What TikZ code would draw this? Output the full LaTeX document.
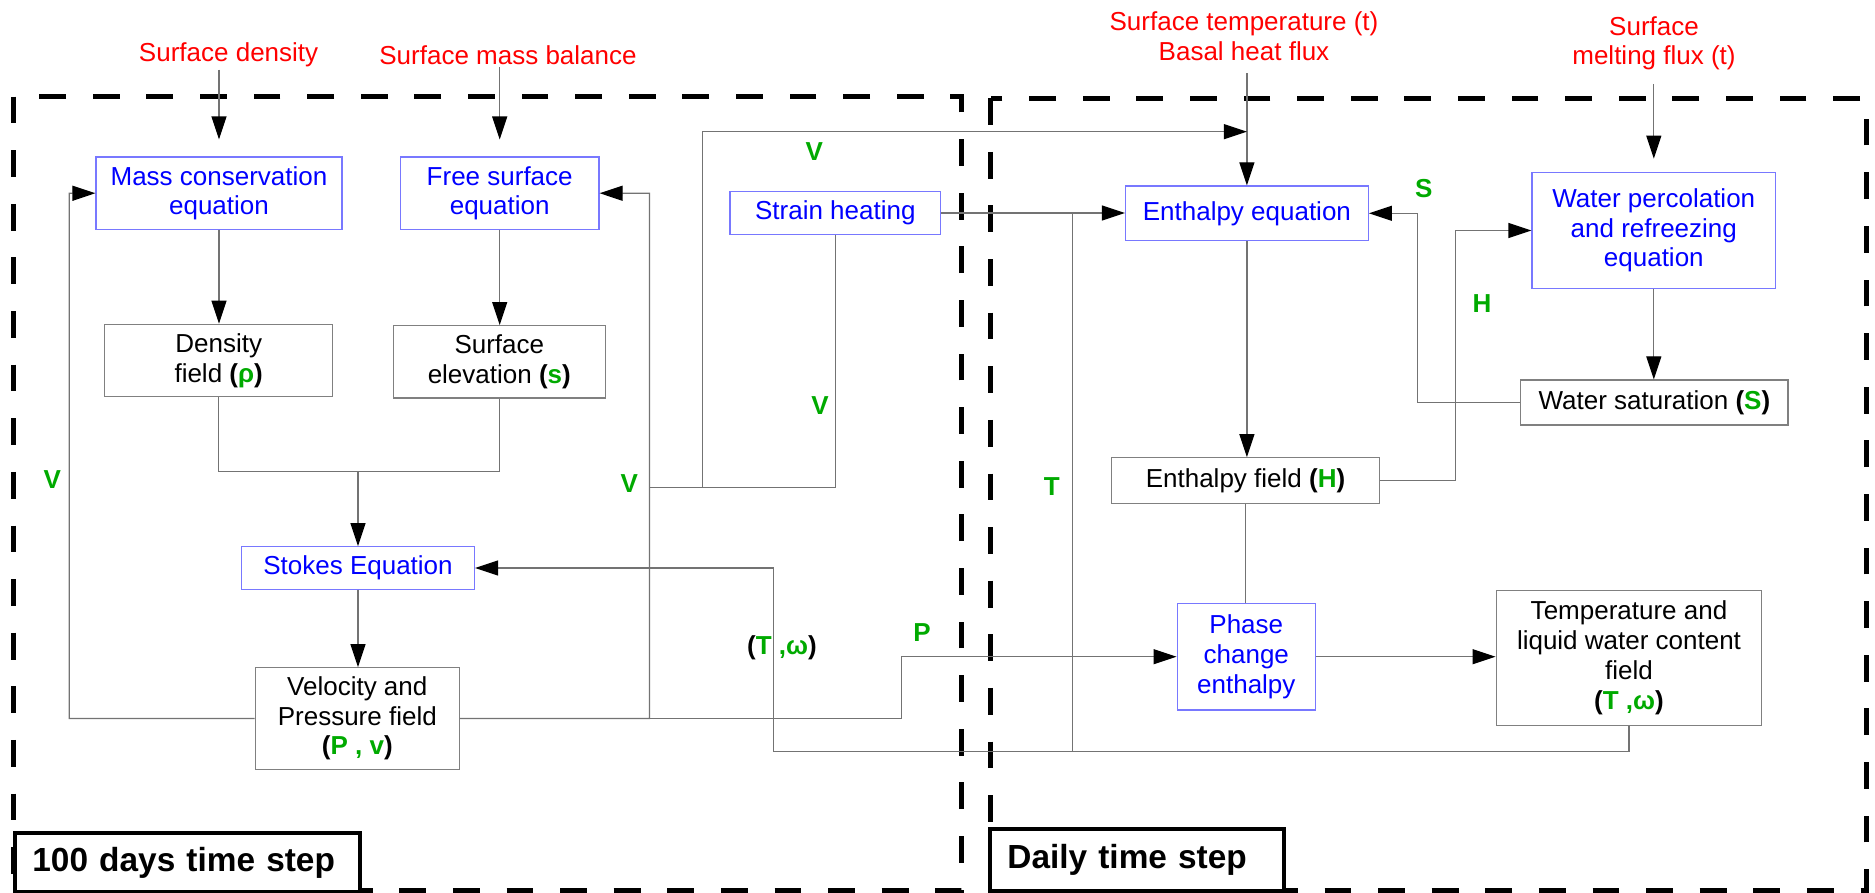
\documentclass[tikz,border=0pt]{standalone}
\usepackage{fontspec}
\setmainfont{Liberation Sans}
\usepackage{xcolor}
\usepackage{tikz}
\usetikzlibrary{arrows.meta}

\definecolor{inred}{RGB}{255,0,0}
\definecolor{eqblue}{RGB}{0,0,255}
\definecolor{eqedge}{RGB}{120,120,255}
\definecolor{fldedge}{RGB}{128,128,128}
\definecolor{conngray}{RGB}{115,115,115}
\definecolor{vargreen}{RGB}{0,170,0}

\newcommand{\gv}[1]{\textcolor{vargreen}{\textbf{#1}}}
\newcommand{\bk}[1]{\textbf{#1}}

\begin{document}
\begin{tikzpicture}[x=0.5pt,y=0.5pt,yscale=-1,xscale=1,
  every node/.style={font=\fontsize{13}{14.85}\selectfont},
  eqbox/.style={draw=eqedge,line width=0.6pt,text=eqblue,align=center,inner sep=0pt},
  fldbox/.style={draw=fldedge,line width=0.6pt,align=center,inner sep=0pt},
  intext/.style={text=inred,align=center,inner sep=1pt},
  varlbl/.style={text=vargreen,font=\fontsize{13}{14.85}\selectfont\bfseries,inner sep=0pt},
  conn/.style={draw=conngray,line width=0.6pt},
  arr/.style={conn,-{Triangle[length=11.5pt,width=7.5pt,color=black]}},
  dashbox/.style={line width=2.5pt,dash pattern=on 13.4pt off 13.4pt},
  tsbox/.style={draw,line width=2pt,fill=white,anchor=west,inner xsep=8.5pt,inner ysep=0pt,align=left,font=\fontsize{16.7}{20}\selectfont\bfseries}]
\useasboundingbox (0,0) rectangle (1875,893);

%Shape: Dashed Rectangles (time step domains)
\draw[dashbox] (13.4,96.7) rectangle (961.6,890);
\draw[dashbox] (990.6,98.3) rectangle (1866.4,890);

% Text Node (inputs)
\node[intext] (sdens) at (228.6,55) {Surface density};
\node[intext] (smb) at (508,55) {Surface mass balance};
\node[intext] (stemp) at (1244,36) {Surface temperature (t)\\Basal heat flux};
\node[intext] (smelt) at (1654,43.3) {Surface\\melting flux (t)};

% Equation boxes
\node[eqbox,minimum width=123pt,minimum height=36.15pt] (masseq) at (219,193.2) {Mass conservation\\equation};
\node[eqbox,minimum width=99.3pt,minimum height=36.15pt] (freeeq) at (499.7,193.2) {Free surface\\equation};
\node[eqbox,minimum width=116.5pt,minimum height=21.3pt] (stokes) at (358,568) {Stokes Equation};
\node[eqbox,minimum width=105.35pt,minimum height=21.3pt] (strain) at (835.3,213) {Strain heating};
\node[eqbox,minimum width=121.45pt,minimum height=27.35pt] (entheq) at (1246.9,213.3) {Enthalpy equation};
\node[eqbox,minimum width=121.8pt,minimum height=57.8pt] (percol) at (1653.8,230.5) {Water percolation\\and refreezing\\equation};
\node[eqbox,minimum width=69.1pt,minimum height=53.35pt] (phase) at (1246.3,656.7) {Phase\\change\\enthalpy};

% Field boxes
\node[fldbox,minimum width=113.85pt,minimum height=36.2pt] (density) at (218.7,360.5) {Density\\field \bk{(}\gv{ρ}\bk{)}};
\node[fldbox,minimum width=106pt,minimum height=36.15pt] (elev) at (499.3,361.8) {Surface\\elevation \bk{(}\gv{s}\bk{)}};
\node[fldbox,minimum width=102pt,minimum height=50.8pt] (velo) at (357.3,718.5) {Velocity and\\Pressure field\\\bk{(}\gv{P , v}\bk{)}};
\node[fldbox,minimum width=133.65pt,minimum height=22.5pt] (satur) at (1654.4,402.5) {Water saturation \bk{(}\gv{S}\bk{)}};
\node[fldbox,minimum width=133.95pt,minimum height=22.8pt] (enthf) at (1245.5,480.5) {Enthalpy field \bk{(}\gv{H}\bk{)}};
\node[fldbox,minimum width=132.8pt,minimum height=67.5pt] (tempf) at (1629,657.8) {Temperature and\\liquid water content\\field\\\bk{(}\gv{T ,ω}\bk{)}};

% Variable labels
\node[varlbl] (vleft) at (52.2,480) {V};
\node[varlbl] (vmid) at (629.4,484) {V};
\node[varlbl] (vtopl) at (814.3,151.7) {V};
\node[varlbl] (vstr) at (820,406) {V};
\node[varlbl] (plbl) at (922,633) {P};
\node[inner sep=0pt] (twlbl) at (782,648) {\bk{(}\gv{T ,ω}\bk{)}};
\node[varlbl] (tlbl) at (1051.8,486.7) {T};
\node[varlbl] (slbl) at (1423.9,188.3) {S};
\node[varlbl] (hlbl) at (1482,304) {H};

% Bend points
\coordinate (lv) at (69.2,193.3);
\coordinate (rv) at (649.5,193.3);
\coordinate (vj) at (649.5,487.3);
\coordinate (vup) at (702.2,487.3);
\coordinate (vtop) at (702.2,131.7);
\coordinate (mrg) at (358,471.7);
\coordinate (pj) at (901.3,656.7);
\coordinate (tw) at (773.2,751.7);
\coordinate (tj) at (1072.3,751.7);
\coordinate (hj) at (1455.7,230.5);
\coordinate (sj) at (1417.4,213.3);

%Straight Lines (inputs)
\draw[arr,shorten >=8.5pt] (sdens.south -| masseq.north) -- (masseq.north);
\draw[arr,shorten >=8.5pt] (smb.south -| freeeq.north) -- (freeeq.north);
\draw[arr] ([yshift=5.35pt]stemp.south -| entheq.north) -- (entheq.north);
\draw[arr,shorten >=6.7pt] ([yshift=5.6pt]smelt.south -| percol.north) -- (percol.north);

%Straight Lines (100 days loop)
\draw[arr] (masseq.south) -- (masseq.south |- density.north);
\draw[arr] (freeeq.south) -- (freeeq.south |- elev.north);
\draw[conn] (density.south) |- (mrg);
\draw[conn] (elev.south) |- (mrg);
\draw[arr] (mrg) -- (stokes.north);
\draw[arr] (stokes.south) -- (stokes.south |- velo.north);
\draw[arr] (velo.west) -| (lv) -- (masseq.west);
\draw[arr] (velo.east) -| (rv) -- (freeeq.east);
\draw[conn] (strain.south) |- (vj);
\draw[arr] (vup) -- (vtop) -- (vtop -| entheq.north);
\draw[arr] (velo.east) -| (pj) -- (phase.west);
\draw[arr] (tempf.south) |- (tw) |- (stokes.east);

%Straight Lines (daily loop)
\draw[arr] (strain.east) -- (strain.east -| entheq.west);
\draw[conn] (tj) -- (tj |- strain.east);
\draw[arr] (entheq.south) -- (entheq.south |- enthf.north);
\draw[conn] (enthf.south) -- (enthf.south |- phase.north);
\draw[arr] (phase.east) -- (phase.east -| tempf.west);
\draw[arr] (enthf.east) -| (hj) -- (percol.west);
\draw[arr] (percol.south) -- (percol.south |- satur.north);
\draw[arr] (satur.west) -| (sj) -- (entheq.east);

% Time step boxes
\node[tsbox,text width=155.5pt,minimum height=29.2pt] (slowts) at (13.4,862.5) {100 days time step};
\node[tsbox,text width=129.7pt,minimum height=31pt] (dailyts) at (988.4,860) {Daily time step};

\end{tikzpicture}
\end{document}
